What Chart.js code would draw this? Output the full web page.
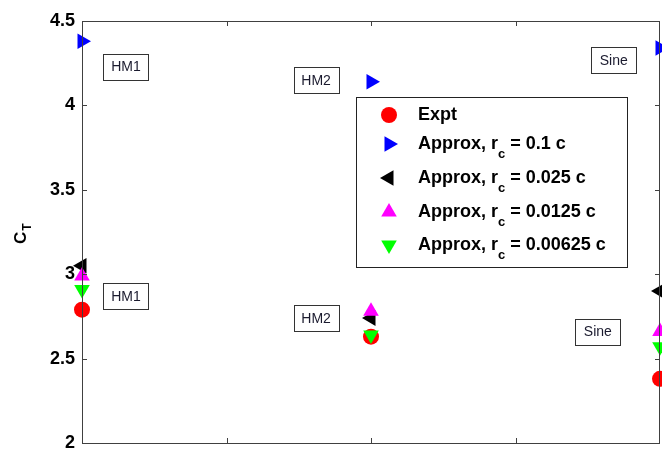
<!DOCTYPE html>
<html>
<head>
<meta charset="utf-8">
<script src="https://cdn.jsdelivr.net/npm/chart.js@4/dist/chart.umd.min.js"></script>
<style>
  html, body { margin: 0; padding: 0; background: #fff; }
  #wrap { width: 662px; height: 449px; position: relative; }
</style>
</head>
<body>
<div id="wrap"><canvas id="ct"></canvas></div>
<script>
// Datos: C_T por caso
const cases = ['HM1', 'HM2', 'Sine'];
const caseX = [1, 2, 3];
const expt = [2.79, 2.63, 2.38];
const rc0100 = [4.38, 4.14, 4.34];
const rc0025 = [3.05, 2.74, 2.90];
const rc00125 = [2.99, 2.78, 2.66];
const rc000625 = [2.91, 2.64, 2.57];
const yTicks = [2, 2.5, 3, 3.5, 4, 4.5];

const toPoints = (vals) => vals.map((v, i) => ({ x: caseX[i], y: v }));

const series = [
    { label: 'Expt', sub: '', data: expt, color: '#ff0000', style: 'circle', rot: 0, r: 8 },
    { label: 'Approx, r', sub: 'c', rest: ' = 0.1 c', data: rc0100, color: '#0000ff', style: 'triangle', rot: 90, r: 9 },
    { label: 'Approx, r', sub: 'c', rest: ' = 0.025 c', data: rc0025, color: '#000000', style: 'triangle', rot: -90, r: 9 },
    { label: 'Approx, r', sub: 'c', rest: ' = 0.0125 c', data: rc00125, color: '#ff00ff', style: 'triangle', rot: 0, r: 9 },
    { label: 'Approx, r', sub: 'c', rest: ' = 0.00625 c', data: rc000625, color: '#00ff00', style: 'triangle', rot: 180, r: 9 }
];

// Etiquetas de texto (dos por caso)
const notes = [
    { text: 'HM1', x: 1.152, y: 4.23 },
    { text: 'HM1', x: 1.152, y: 2.87 },
    { text: 'HM2', x: 1.81, y: 4.15 },
    { text: 'HM2', x: 1.81, y: 2.74 },
    { text: 'Sine', x: 2.84, y: 4.27 },
    { text: 'Sine', x: 2.785, y: 2.66 }
];

const FONT = "'Liberation Sans', Arial, sans-serif";

const framePlugin = {
    id: 'frame',
    afterDatasetsDraw(chart) {
        const { ctx, chartArea: a, scales } = chart;
        ctx.save();
        ctx.strokeStyle = '#404040';
        ctx.lineWidth = 1;
        ctx.strokeRect(a.left + 0.5, a.top + 0.5, a.right - a.left - 1, a.bottom - a.top);
        ctx.beginPath();
        [1.5, 2, 2.5].forEach(v => {
            const x = Math.round(scales.x.getPixelForValue(v)) + 0.5;
            ctx.moveTo(x, a.bottom); ctx.lineTo(x, a.bottom - 5);
            ctx.moveTo(x, a.top); ctx.lineTo(x, a.top + 5);
        });
        [2.5, 3, 3.5, 4].forEach(v => {
            const y = Math.round(scales.y.getPixelForValue(v)) + 0.5;
            ctx.moveTo(a.left, y); ctx.lineTo(a.left + 5, y);
            ctx.moveTo(a.right, y); ctx.lineTo(a.right - 5, y);
        });
        ctx.stroke();
        ctx.restore();
    }
};

const notesPlugin = {
    id: 'notes',
    afterDraw(chart) {
        const { ctx, scales } = chart;
        ctx.save();
        ctx.font = '14px ' + FONT;
        ctx.textAlign = 'center';
        ctx.textBaseline = 'middle';
        notes.forEach(n => {
            const cx = scales.x.getPixelForValue(n.x);
            const cy = scales.y.getPixelForValue(n.y);
            const w = 45, h = 26;
            ctx.fillStyle = '#fff';
            ctx.fillRect(cx - w / 2, cy - h / 2, w, h);
            ctx.strokeStyle = '#333';
            ctx.lineWidth = 1;
            ctx.strokeRect(Math.round(cx - w / 2) + 0.5, Math.round(cy - h / 2) + 0.5, w, h);
            ctx.fillStyle = '#1a1a2e';
            ctx.fillText(n.text, cx, cy + 1);
        });
        ctx.restore();
    }
};

function drawMarker(ctx, s, x, y) {
    if (s.style === 'circle') {
        ctx.arc(x, y, s.r, 0, Math.PI * 2);
        return;
    }
    let rad = s.rot * Math.PI / 180;
    for (let k = 0; k < 3; k++) {
        const px = x + Math.sin(rad) * s.r;
        const py = y - Math.cos(rad) * s.r;
        if (k === 0) ctx.moveTo(px, py); else ctx.lineTo(px, py);
        rad += 2 * Math.PI / 3;
    }
    ctx.closePath();
}

const legendPlugin = {
    id: 'customLegend',
    afterDraw(chart) {
        const { ctx } = chart;
        const box = { x: 356, y: 97, w: 271, h: 170 };
        const rows = [115, 144, 178, 212, 245];
        ctx.save();
        ctx.fillStyle = '#fff';
        ctx.fillRect(box.x, box.y, box.w, box.h);
        ctx.strokeStyle = '#222';
        ctx.lineWidth = 1;
        ctx.strokeRect(box.x + 0.5, box.y + 0.5, box.w, box.h);
        series.forEach((s, i) => {
            const y = rows[i];
            ctx.fillStyle = s.color;
            ctx.beginPath();
            drawMarker(ctx, s, 389, y);
            ctx.fill();
            ctx.fillStyle = '#000';
            ctx.textBaseline = 'middle';
            ctx.textAlign = 'left';
            ctx.font = 'bold 18px ' + FONT;
            let x = 418;
            ctx.fillText(s.label, x, y);
            if (s.sub) {
                x += ctx.measureText(s.label).width;
                ctx.font = 'bold 13px ' + FONT;
                ctx.fillText(s.sub, x, y + 10);
                x += ctx.measureText(s.sub).width;
                ctx.font = 'bold 18px ' + FONT;
                ctx.fillText(s.rest, x, y);
            }
        });
        ctx.restore();
    }
};

const yTitlePlugin = {
    id: 'yTitle',
    afterDraw(chart) {
        const { ctx } = chart;
        ctx.save();
        ctx.translate(26, 244);
        ctx.rotate(-Math.PI / 2);
        ctx.fillStyle = '#000';
        ctx.textBaseline = 'alphabetic';
        ctx.textAlign = 'left';
        ctx.font = 'bold 17px ' + FONT;
        ctx.fillText('C', 0, 0);
        const w = ctx.measureText('C').width;
        ctx.font = 'bold 12px ' + FONT;
        ctx.fillText('T', w + 1, 5);
        ctx.restore();
    }
};

new Chart(document.getElementById('ct'), {
    type: 'scatter',
    data: {
        datasets: series.map((s, i) => ({
            label: s.label + (s.sub ? '_' + s.sub + s.rest : ''),
            data: toPoints(s.data),
            pointStyle: s.style,
            pointRotation: s.rot,
            pointRadius: s.r,
            pointHoverRadius: s.r,
            pointBackgroundColor: s.color,
            pointBorderColor: s.color,
            pointBorderWidth: 0,
            order: series.length - i,
            clip: { left: false, top: false, right: 2, bottom: false }
        }))
    },
    options: {
        responsive: true,
        maintainAspectRatio: false,
        animation: false,
        layout: { autoPadding: false, padding: { left: 0, top: 21, right: 2, bottom: 6 } },
        plugins: {
            legend: { display: false },
            tooltip: { enabled: false }
        },
        scales: {
            x: {
                type: 'linear',
                display: false,
                min: 1,
                max: 3
            },
            y: {
                type: 'linear',
                min: 2,
                max: 4.5,
                afterFit(scale) {
                    scale.width = 82;
                    scale.paddingTop = 0;
                    scale.paddingBottom = 0;
                },
                afterBuildTicks(scale) { scale.ticks = yTicks.map(v => ({ value: v })); },
                grid: { display: false, drawTicks: false },
                border: { display: false },
                ticks: {
                    color: '#000',
                    padding: 7,
                    callback: (v) => String(v),
                    font: { family: FONT, size: 18, weight: 'bold' }
                }
            }
        }
    },
    plugins: [framePlugin, notesPlugin, legendPlugin, yTitlePlugin]
});
</script>
</body>
</html>
